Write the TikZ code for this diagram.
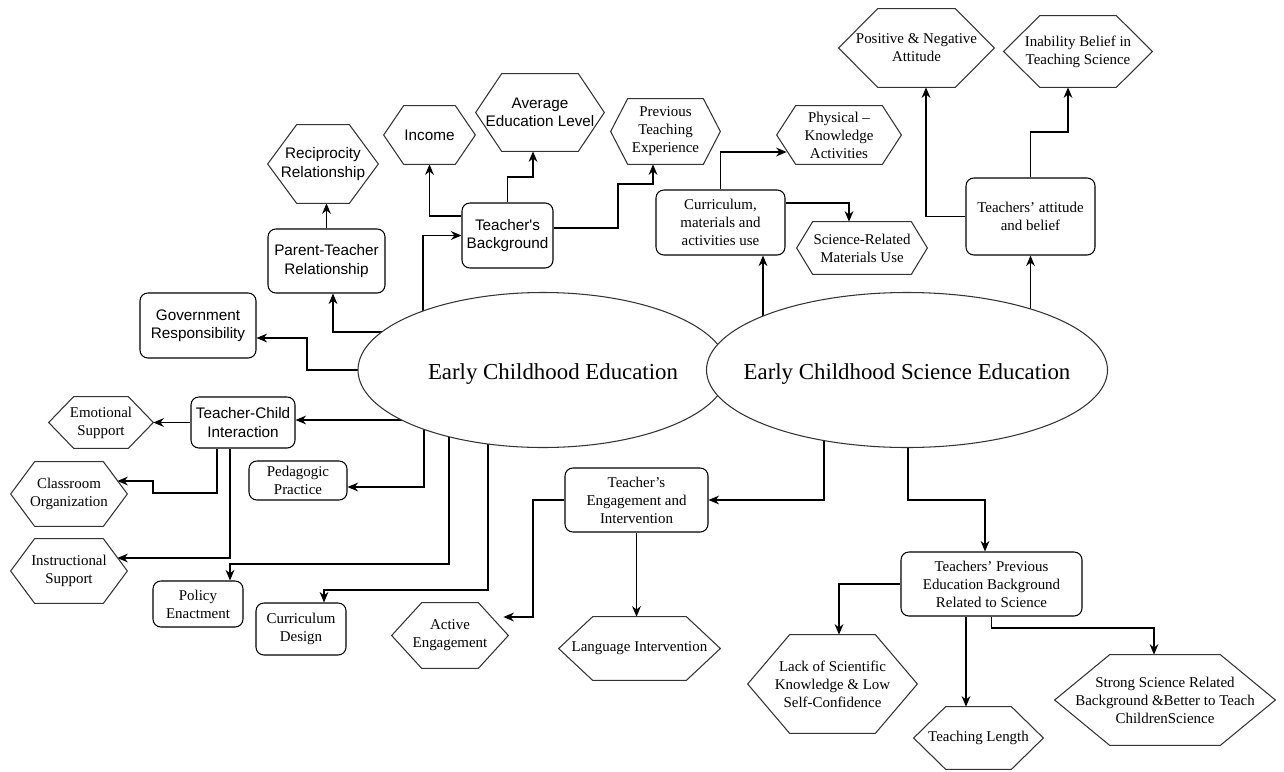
\documentclass[tikz,border=0pt]{standalone}
\usepackage{fontspec}
\setmainfont{Liberation Serif}
\setsansfont{Liberation Sans}
\usetikzlibrary{shapes.geometric,arrows.meta,backgrounds}

\begin{document}
\begin{tikzpicture}[x=0.02cm, y=-0.02cm,
    sz/.style 2 args={minimum width=#1*0.02cm, minimum height=#2*0.02cm},
    box/.style={draw, line width=0.6pt, rounded corners=4.5pt, align=center, inner sep=1pt,
        font={\fontsize{8.5}{10.2}\selectfont}},
    hexa/.style={align=center, inner sep=1pt, font={\fontsize{8.5}{10.2}\selectfont}},
    sans/.style={font={\sffamily\fontsize{8.7}{10.5}\selectfont}},
    topic/.style={ellipse, draw=black!80, fill=white, line width=0.6pt, inner sep=0pt},
    topictext/.style={font={\fontsize{13}{15}\selectfont}, inner sep=0pt, yshift=-0.08cm},
    conn/.style={line width=0.6pt, -{Stealth[length=6pt,width=5pt]}},
    hexline/.style={draw=black!80, line width=0.6pt, line join=miter}]
    \useasboundingbox (0,0) rectangle (1284,771);

    % Main topics
    \node[topic, sz={370}{155}, label={[topictext, xshift=0.2cm]center:Early Childhood Education}] (ece) at (543,370) {};
    \node[topic, sz={401}{155}, label={[topictext]center:Early Childhood Science Education}] (ecse) at (907,370) {};

    % Early childhood education side
    \node[box, sans, sz={116}{65}] (gov) at (198,325.5) {Government\\Responsibility};
    \node[box, sans, sz={117}{64}] (ptr) at (326.5,261) {Parent-Teacher\\Relationship};
    \node[hexa, sans, sz={110}{78}] (recip) at (323,164) {Reciprocity\\Relationship};
    \node[box, sans, sz={91}{65}] (tb) at (507.5,235.5) {Teacher\textquotesingle s\\Background};
    \node[hexa, sans, sz={91}{58}] (income) at (429.5,135) {Income};
    \node[hexa, sans, sz={128}{77}] (avged) at (540,112.5) {Average\\Education Level};
    \node[hexa, sz={109}{65}] (pte) at (665.5,131.5) {Previous\\Teaching\\Experience};
    \node[box, sans, sz={104}{51}] (tci) at (243,422.5) {Teacher-Child\\Interaction};
    \node[hexa, sz={104}{51}] (emo) at (101,422.5) {Emotional\\Support};
    \node[hexa, sz={116}{64}] (clo) at (69,494) {Classroom\\Organization};
    \node[hexa, sz={116}{64}] (ins) at (69,571) {Instructional\\Support};
    \node[box, sz={98}{39}] (ped) at (298,480.5) {Pedagogic\\Practice};
    \node[box, sz={90}{46}] (pol) at (198,604) {Policy\\Enactment};
    \node[box, sz={90}{52}] (cd) at (301,629) {Curriculum\\Design};

    % Early childhood science education side
    \node[box, sz={129}{65}] (cur) at (720.5,222.5) {Curriculum,\\materials and\\activities use};
    \node[hexa, sz={124}{58}] (phys) at (839,135) {Physical –\\Knowledge\\Activities};
    \node[hexa, sz={130}{52}] (scirel) at (862,248) {Science-Related\\Materials Use};
    \node[box, sz={129}{77}] (ta) at (1030.5,216.5) {Teachers’ attitude\\and belief};
    \node[hexa, sz={155}{78}] (posneg) at (916.5,48) {Positive \& Negative\\Attitude};
    \node[hexa, sz={148}{71}] (inab) at (1078,51.5) {Inability Belief in\\Teaching Science};
    \node[box, sz={143}{64}] (te) at (636.5,500) {Teacher’s\\Engagement and\\Intervention};
    \node[hexa, sz={116}{65}] (ae) at (450,635.5) {Active\\Engagement};
    \node[hexa, sz={161}{63}] (li) at (639.5,648.5) {Language Intervention};
    \node[box, sz={181}{64}] (tpe) at (991.5,584) {Teachers’ Previous\\Education Background\\Related to Science};
    \node[hexa, sz={169}{98}] (lack) at (832.5,684) {Lack of Scientific\\Knowledge \& Low\\Self-Confidence};
    \node[hexa, sz={129}{62}] (tl) at (978.5,738) {Teaching Length};
    \node[hexa, sz={220}{90}] (strong) at (1165,700) {Strong Science Related\\Background \&Better to Teach\\ChildrenScience};

    % Hexagon outlines
    \foreach \h/\s in {recip/29, income/20, avged/26, pte/17, phys/19, scirel/16, posneg/39, inab/36,
        emo/25, clo/24, ins/24, ae/30, li/34, lack/42, tl/32, strong/55}
        \draw[hexline] (\h.west) -- ([shift={(\s,0)}]\h.north west) -- ([shift={(-\s,0)}]\h.north east)
            -- (\h.east) -- ([shift={(-\s,0)}]\h.south east) -- ([shift={(\s,0)}]\h.south west) -- cycle;

    \begin{pgfonlayer}{background}
    % Links of early childhood education
    \draw[conn] (ece.center) -| (307,338) -- (gov.east |- 0,338);
    \draw[conn] (ece.center |- 0,332) -| (333,0 |- ptr.south);
    \draw[conn] (ptr.north) -- (ptr.north |- recip.south);
    \draw[conn] (ece.center -| 423,0) |- (tb.west);
    \draw[conn] (tb.west |- 0,216) -| (income.south);
    \draw[conn] (tb.north) |- (533,177) -- (533,0 |- avged.south);
    \draw[conn] (tb.east |- 0,228) -| (618,184) -| (653,0 |- pte.south);
    \draw[conn] (ece.center |- 0,420) -- (tci.east |- 0,420);
    \draw[conn] (tci.west) -- (emo.east);
    \draw[conn] (217,0 |- tci.south) |- (153,493) -- (153,481) -- ([shift={(-10,-13)}]clo.east);
    \draw[conn] (230,0 |- tci.south) |- ([shift={(-10,-13)}]ins.east);
    \draw[conn] (ece.center -| 424,0) |- (ped.east |- 0,487);
    \draw[conn] (ece.center -| 449,0) |- (230,564) -- (230,0 |- pol.north);
    \draw[conn] (ece.center -| 488,0) |- (324,590) -- (324,0 |- cd.north);

    % Links of early childhood science education
    \draw[conn] (ecse.center -| 763,0) -- (763,0 |- cur.south);
    \draw[conn] (cur.north) |- ([shift={(10,17)}]phys.west);
    \draw[conn] (cur.east |- 0,203) -| (849,0 |- scirel.north);
    \draw[conn] (ecse.center -| ta.south) -- (ta.south);
    \draw[conn] (ta.west) -| (926,0 |- posneg.south);
    \draw[conn] (ta.north) |- (1068,132) -- (1068,0 |- inab.south);
    \draw[conn] (ecse.center -| 824,0) |- (te.east);
    \draw[conn] (te.west) -| (533,617) -- ([shift={(-5,-18.5)}]ae.east);
    \draw[conn] (te.south) -- (te.south |- li.north);
    \draw[conn] (ecse.center -| 908,0) |- (985,500) -- (985,0 |- tpe.north);
    \draw[conn] (tpe.west) -| (839,0 |- lack.north);
    \draw[conn] (966,0 |- tpe.south) -- (966,0 |- tl.north);
    \draw[conn] (tpe.south) |- (1154,628) -- (1154,0 |- strong.north);
    \end{pgfonlayer}
\end{tikzpicture}
\end{document}
